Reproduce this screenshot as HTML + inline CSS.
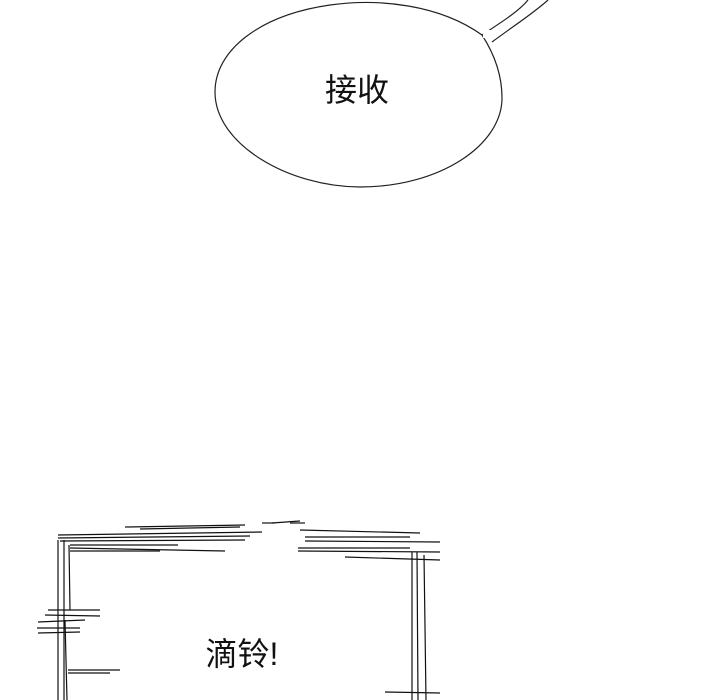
<!DOCTYPE html>
<html><head><meta charset="utf-8"><style>
html,body{margin:0;padding:0;background:#fff;}
svg{display:block}
text{font-family:"Liberation Sans","Noto Sans CJK SC",sans-serif;fill:#111}
</style></head><body>
<svg width="720" height="700" viewBox="0 0 720 700" xmlns="http://www.w3.org/2000/svg">
<rect width="720" height="700" fill="#fff"/>
<g fill="none" stroke="#222" stroke-width="1.2">
<path d="M482,35 C440,5 380,-2 330,5 C260,15 215,50 215,92 C215,145 290,187 360,187 C440,187 502,145 502,98 C502,75 495,55 482,35"/>
<path d="M482,35 C505,20 520,10 528,0"/>
<path d="M492,42 C515,25 535,12 548,0"/>
</g>
<rect x="483" y="30" width="8" height="8" fill="#fff"/>
<text x="357" y="101" font-size="32" text-anchor="middle">接收</text>
<g stroke="#111" fill="none" stroke-width="1.2">
<path d="M125,527 L245,525"/><path d="M140,529 L240,527"/>
<path d="M58,535 L262,532"/><path d="M58,538 L250,536"/>
<path d="M60,541 L245,540"/><path d="M70,545 L178,545"/>
<path d="M70,548 L225,551"/><path d="M70,551 L160,551"/>
<path d="M262,523 L275,523"/><path d="M290,523 L305,523"/>
<path d="M272,523 L300,521"/>
<path d="M300,530 L420,533"/><path d="M305,537 L410,537"/>
<path d="M305,541 L440,542"/><path d="M298,548 L410,548"/>
<path d="M298,551 L440,552"/><path d="M345,557 L440,560"/>
<path d="M58,540 L58,700"/><path d="M64,540 L64,700"/><path d="M69,545 L70,610"/>
<path d="M65,620 L67,700"/>
<path d="M48,610 L100,610"/><path d="M45,615 L100,616"/><path d="M38,622 L85,620"/>
<path d="M37,628 L80,628"/><path d="M38,633 L80,632"/>
<path d="M68,670 L120,670"/><path d="M68,673 L110,673"/>
<path d="M412,552 L412,700"/><path d="M417,552 L418,700"/><path d="M424,555 L426,700"/>
<path d="M385,692 L440,693"/>
</g>
<text x="242" y="665" font-size="32" text-anchor="middle">滴铃!</text>
</svg>
</body></html>
